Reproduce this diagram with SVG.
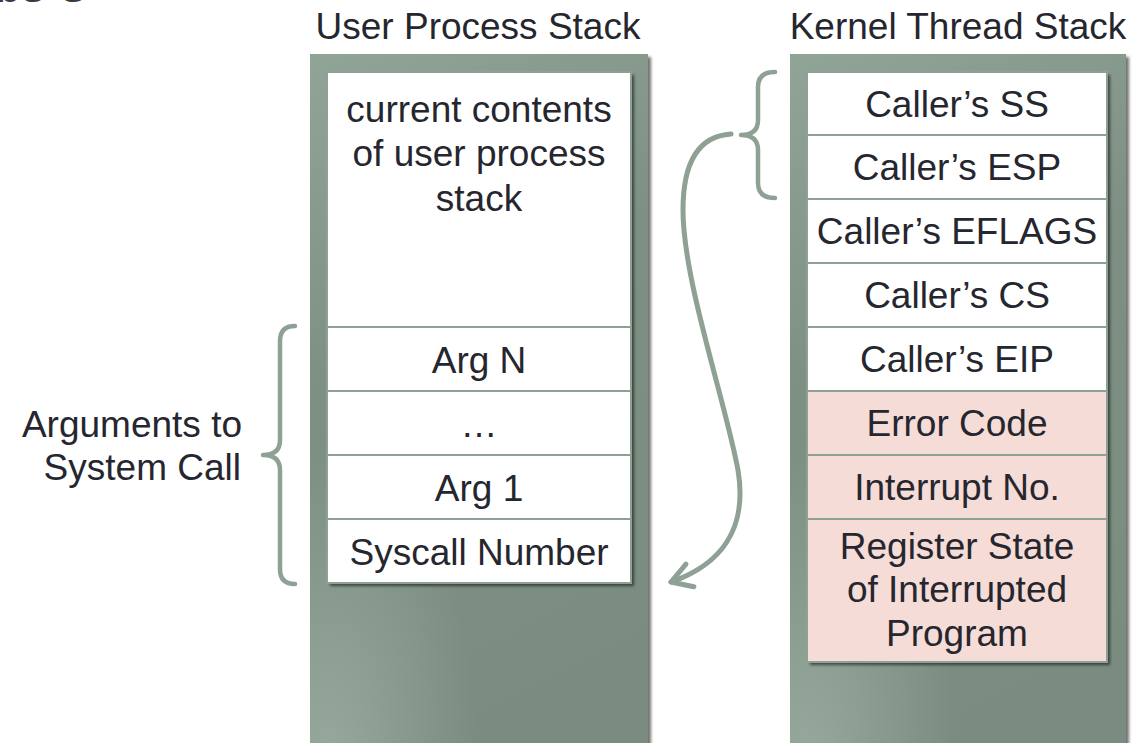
<svg xmlns="http://www.w3.org/2000/svg" width="1145" height="743" viewBox="0 0 1145 743">
  <defs>
    <style>
      .lbl { font-family: "Liberation Sans", Arial, sans-serif; font-size: 37px; fill: #26262f; }
      .mid { text-anchor: middle; }
      .end { text-anchor: end; }
      .cell { fill: #ffffff; stroke: #8ea194; stroke-width: 2; }
      .cell.pink { fill: #f5dcd7; }
      .brace { fill: none; stroke: #8ea194; stroke-width: 4.5; stroke-linecap: round; stroke-linejoin: round; }
      .flow { fill: none; stroke: #8ea194; stroke-width: 5; stroke-linecap: round; }
    </style>
    <linearGradient id="stackFill" x1="0" y1="0" x2="0.25" y2="1">
      <stop offset="0" stop-color="#91a498"/>
      <stop offset="0.45" stop-color="#7d9083"/>
      <stop offset="1" stop-color="#7a8c80"/>
    </linearGradient>
    <radialGradient id="stackGlow" cx="0.05" cy="1" r="0.45">
      <stop offset="0" stop-color="#9aac9f" stop-opacity="0.9"/>
      <stop offset="1" stop-color="#9aac9f" stop-opacity="0"/>
    </radialGradient>
    <filter id="shadow" x="-5%" y="-5%" width="115%" height="115%">
      <feDropShadow dx="3" dy="3" stdDeviation="1.5" flood-color="#000" flood-opacity="0.55"/>
    </filter>
    <marker id="chevron" markerUnits="userSpaceOnUse" viewBox="-26 -16 30 32" refX="0" refY="0" markerWidth="30" markerHeight="32" orient="auto">
      <path d="M-20,-12 L0,0 L-20,12" fill="none" stroke="#8ea194" stroke-width="5" stroke-linecap="round" stroke-linejoin="round"/>
    </marker>
  </defs>

  <rect width="1145" height="743" fill="#ffffff"/>

  <!-- slide heading, mostly above the top edge -->
  <text class="lbl" x="-6" y="2" style="font-size:44px;font-weight:bold;fill:#3a3a44">bs U</text>

  <!-- column headings -->
  <text class="lbl mid" x="478" y="39">User Process Stack</text>
  <text class="lbl mid" x="958" y="39">Kernel Thread Stack</text>

  <!-- user process stack -->
  <g id="user-stack">
    <rect x="310" y="54" width="338" height="710" fill="url(#stackFill)" filter="url(#shadow)"/>
    <rect x="310" y="54" width="338" height="710" fill="url(#stackGlow)"/>
    <rect x="327" y="72" width="304" height="511" fill="#ffffff" filter="url(#shadow)"/>
    <g id="user-contents">
      <rect class="cell" x="327" y="72" width="304" height="255"/>
      <text class="lbl mid" x="479" y="122">current contents</text>
      <text class="lbl mid" x="479" y="166">of user process</text>
      <text class="lbl mid" x="479" y="211">stack</text>
    </g>
    <g id="arg-n">
      <rect class="cell" x="327" y="327" width="304" height="64"/>
      <text class="lbl mid" x="479" y="373">Arg N</text>
    </g>
    <g id="arg-dots">
      <rect class="cell" x="327" y="391" width="304" height="64"/>
      <text class="lbl mid" x="479" y="437">…</text>
    </g>
    <g id="arg-1">
      <rect class="cell" x="327" y="455" width="304" height="64"/>
      <text class="lbl mid" x="479" y="501">Arg 1</text>
    </g>
    <g id="syscall-number">
      <rect class="cell" x="327" y="519" width="304" height="64"/>
      <text class="lbl mid" x="479" y="565">Syscall Number</text>
    </g>
  </g>

  <!-- kernel thread stack -->
  <g id="kernel-stack">
    <rect x="790" y="54" width="336" height="710" fill="url(#stackFill)" filter="url(#shadow)"/>
    <rect x="790" y="54" width="336" height="710" fill="url(#stackGlow)"/>
    <rect x="807" y="72" width="300" height="590" fill="#ffffff" filter="url(#shadow)"/>
    <g id="callers-ss">
      <rect class="cell" x="807" y="72" width="300" height="63"/>
      <text class="lbl mid" x="957" y="117">Caller’s SS</text>
    </g>
    <g id="callers-esp">
      <rect class="cell" x="807" y="135" width="300" height="64"/>
      <text class="lbl mid" x="957" y="180">Caller’s ESP</text>
    </g>
    <g id="callers-eflags">
      <rect class="cell" x="807" y="199" width="300" height="64"/>
      <text class="lbl mid" x="957" y="244">Caller’s EFLAGS</text>
    </g>
    <g id="callers-cs">
      <rect class="cell" x="807" y="263" width="300" height="64"/>
      <text class="lbl mid" x="957" y="308">Caller’s CS</text>
    </g>
    <g id="callers-eip">
      <rect class="cell" x="807" y="327" width="300" height="64"/>
      <text class="lbl mid" x="957" y="372">Caller’s EIP</text>
    </g>
    <g id="error-code">
      <rect class="cell pink" x="807" y="391" width="300" height="64"/>
      <text class="lbl mid" x="957" y="436">Error Code</text>
    </g>
    <g id="interrupt-no">
      <rect class="cell pink" x="807" y="455" width="300" height="64"/>
      <text class="lbl mid" x="957" y="500">Interrupt No.</text>
    </g>
    <g id="register-state">
      <rect class="cell pink" x="807" y="519" width="300" height="143"/>
      <text class="lbl mid" x="957" y="559">Register State</text>
      <text class="lbl mid" x="957" y="602">of Interrupted</text>
      <text class="lbl mid" x="957" y="646">Program</text>
    </g>
  </g>

  <!-- label for the argument block -->
  <g id="args-label">
    <text class="lbl end" x="242" y="437">Arguments to</text>
    <text class="lbl end" x="241" y="480">System Call</text>
  </g>

  <!-- braces and the return arrow -->
  <g id="connectors">
    <path class="brace" d="M295,326 Q280,326 280,341 L280,440 Q280,455 263,455 Q280,455 280,470 L280,569 Q280,584 295,584"/>
    <path class="brace" d="M775,72 Q758,72 758,87 L758,120 Q758,135 741,135 Q758,135 758,150 L758,183 Q758,198 775,198"/>
    <path class="flow" d="M731,134 C700,136 683,160 683,210 C683,280 725,400 738,470 C748,530 720,565 671,582" marker-end="url(#chevron)"/>
  </g>
</svg>
